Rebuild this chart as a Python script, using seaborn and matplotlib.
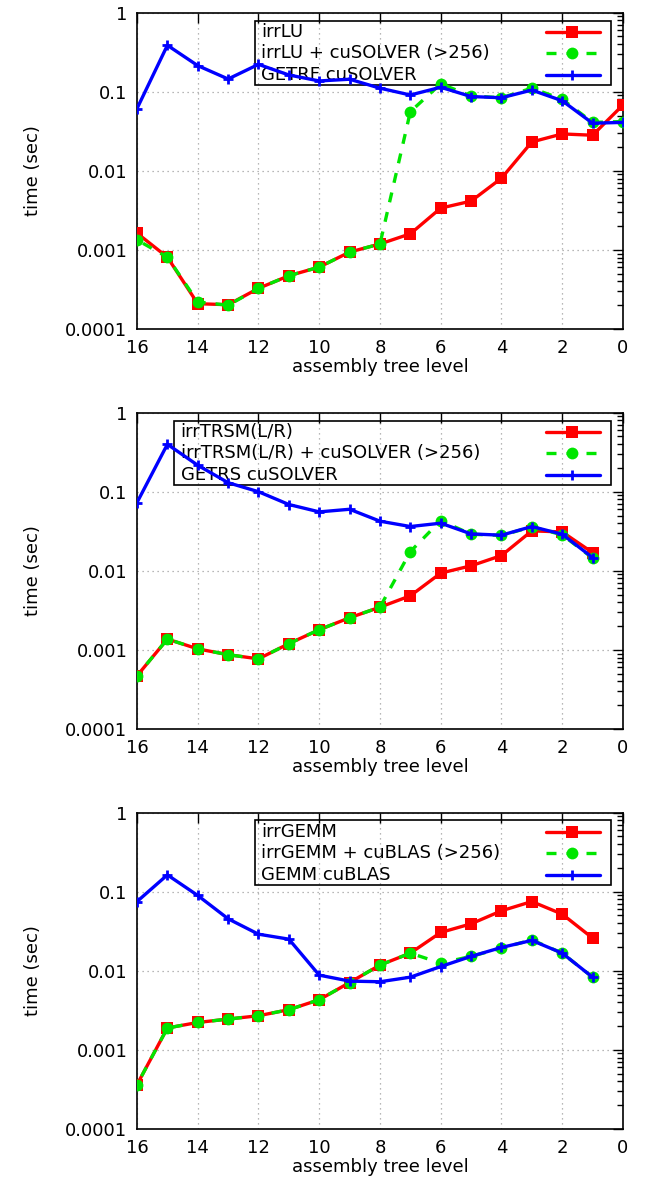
import numpy as np
import matplotlib
matplotlib.use("Agg")
import matplotlib.pyplot as plt
import matplotlib.ticker as mticker
import seaborn as sns

### DATA

levels = [16, 15, 14, 13, 12, 11, 10, 9, 8, 7, 6, 5, 4, 3, 2, 1, 0]
levels_no0 = levels[:-1]

# panel 1 : LU
lu_irr = [0.00163, 0.00081, 0.000209, 0.000203, 0.000327, 0.000472, 0.000607, 0.00094, 0.00119,
          0.0016, 0.00338, 0.00414, 0.00807, 0.0232, 0.0293, 0.0282, 0.068]
lu_mix = [0.00134, 0.00081, 0.00022, 0.0002, 0.000327, 0.000472, 0.000607, 0.00094, 0.00119,
          0.056, 0.126, 0.0886, 0.084, 0.111, 0.0804, 0.041, 0.042]
lu_lib = [0.0613, 0.387, 0.214, 0.145, 0.222, 0.163, 0.137, 0.144, 0.111,
          0.091, 0.114, 0.087, 0.084, 0.105, 0.077, 0.040, 0.041]

# panel 2 : TRSM
trsm_irr = [0.00047, 0.00137, 0.00103, 0.00087, 0.00077, 0.0012, 0.0018, 0.00255, 0.00347,
            0.00483, 0.00935, 0.01157, 0.0156, 0.032, 0.031, 0.017]
trsm_mix = [0.00047, 0.00137, 0.00103, 0.00087, 0.00077, 0.0012, 0.0018, 0.00255, 0.00347,
            0.0175, 0.0432, 0.029, 0.028, 0.036, 0.0285, 0.0145]
trsm_lib = [0.073, 0.398, 0.216, 0.13, 0.1, 0.0689, 0.0556, 0.060, 0.0424,
            0.0363, 0.040, 0.0293, 0.0282, 0.0363, 0.029, 0.0147]

# panel 3 : GEMM
gemm_irr = [0.000363, 0.00189, 0.00222, 0.00245, 0.0027, 0.00322, 0.0043, 0.0071, 0.0118,
            0.0167, 0.0305, 0.0392, 0.0573, 0.075, 0.052, 0.0259]
gemm_mix = [0.000363, 0.00189, 0.00222, 0.00245, 0.0027, 0.00322, 0.0043, 0.0071, 0.0118,
            0.0167, 0.0125, 0.0152, 0.0193, 0.0246, 0.0167, 0.0083]
gemm_lib = [0.075, 0.163, 0.0895, 0.0454, 0.029, 0.0251, 0.0088, 0.0074, 0.00726,
            0.0083, 0.0113, 0.0152, 0.0197, 0.0242, 0.0167, 0.0083]

labels_lu = ["irrLU", "irrLU + cuSOLVER (>256)", "GETRF cuSOLVER"]
labels_trsm = ["irrTRSM(L/R)", "irrTRSM(L/R) + cuSOLVER (>256)", "GETRS cuSOLVER"]
labels_gemm = ["irrGEMM", "irrGEMM + cuBLAS (>256)", "GEMM cuBLAS"]

ytick_vals = [1e-4, 1e-3, 1e-2, 1e-1, 1]
ytick_labels = ["0.0001", "0.001", "0.01", "0.1", "1"]
xtick_vals = [16, 14, 12, 10, 8, 6, 4, 2, 0]

### STYLE

sns.set_style("white")
plt.rcParams["font.family"] = ["DejaVu Sans"]
plt.rcParams["font.size"] = 13
for k in ["text.color", "axes.labelcolor", "xtick.color", "ytick.color", "axes.edgecolor"]:
    plt.rcParams[k] = "black"

RED, GREEN, BLUE = "#ff0000", "#00e600", "#0000ff"
LW = 2.4
styles = [
    dict(color=RED, marker="s", markersize=8.5, markeredgewidth=0,
         markerfacecolor=RED, markeredgecolor=RED, linestyle="-"),
    dict(color=GREEN, marker="o", markersize=8.5, markeredgewidth=0,
         markerfacecolor=GREEN, markeredgecolor=GREEN, linestyle=(0, (3, 3))),
    dict(color=BLUE, marker="+", markersize=6.5, markeredgewidth=2.0,
         markerfacecolor=BLUE, markeredgecolor=BLUE, linestyle="-"),
]

fig = plt.figure(figsize=(6.54, 11.84), dpi=100)
left, width, height = 0.2095, 0.743, 0.2672
bottoms = [0.7221, 0.3843, 0.0465]

panels = [
    (levels, [lu_irr, lu_mix, lu_lib], labels_lu, 0.243),
    (levels_no0, [trsm_irr, trsm_mix, trsm_lib], labels_trsm, 0.0767),
    (levels_no0, [gemm_irr, gemm_mix, gemm_lib], labels_gemm, 0.243),
]

for b, (xs, series, labels, box_left) in zip(bottoms, panels):
    ax = fig.add_axes([left, b, width, height])

    for vals, st in zip(series, styles):
        sns.lineplot(x=xs, y=vals, ax=ax, linewidth=LW, zorder=3, **st)

    ax.set_yscale("log")
    ax.set_ylim(1e-4, 1)
    ax.set_xlim(16, 0)
    ax.set_yticks(ytick_vals)
    ax.set_yticklabels(ytick_labels)
    ax.yaxis.set_minor_locator(mticker.LogLocator(base=10, subs=np.arange(2, 10)))
    ax.yaxis.set_minor_formatter(mticker.NullFormatter())
    ax.set_xticks(xtick_vals)
    ax.tick_params(which="major", direction="in", length=7, width=1, top=True, right=True,
                   labelsize=13, pad=7, colors="black")
    ax.tick_params(which="minor", direction="in", length=4, width=1, top=True, right=True)
    ax.grid(True, which="major", color="#a0a0a0", linestyle=(0, (1, 3)), linewidth=0.9)
    for s in ax.spines.values():
        s.set_color("black")
        s.set_linewidth(1.2)
    ax.set_xlabel("assembly tree level", fontsize=13, labelpad=1)
    ax.set_ylabel("time (sec)", fontsize=13, labelpad=17)

    # gnuplot-like key: text on the left, sample on the right
    ax.add_patch(plt.Rectangle((box_left, 0.772), 0.976 - box_left, 0.203,
                               transform=ax.transAxes, fill=False, edgecolor="black",
                               linewidth=1.2, zorder=2))
    rows = [0.94, 0.872, 0.803]
    for lab, y, st in zip(labels, rows, styles):
        ax.text(box_left + 0.013, y, lab, transform=ax.transAxes, fontsize=13,
                ha="left", va="center", zorder=2)
        ax.plot([0.842, 0.896, 0.952], [y, y, y], transform=ax.transAxes, linewidth=LW,
                markevery=[1], clip_on=False, zorder=3, **st)

fig.savefig("out.png", dpi=100)
